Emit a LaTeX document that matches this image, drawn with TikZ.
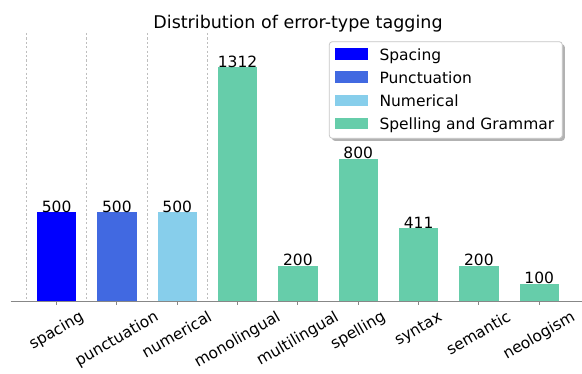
\documentclass[tikz,border=0pt]{standalone}
\usepackage{fontspec}
\usepackage{graphicx}
\setmainfont{DejaVu Sans}
\definecolor{cspace}{RGB}{0,0,255}
\definecolor{cpunct}{RGB}{65,105,225}
\definecolor{cnum}{RGB}{135,206,235}
\definecolor{csg}{RGB}{102,205,170}
\definecolor{axgray}{RGB}{135,135,135}
\definecolor{gridgray}{RGB}{190,190,190}
\newcommand\labfont{\fontsize{15.5}{18}\selectfont}
\newcommand\ttlfont{\fontsize{17.5}{20}\selectfont}
\newcommand\rotlab[1]{\rotatebox{30}{\labfont\vphantom{lp}#1}}
\begin{document}
\begin{tikzpicture}[x=1pt,y=1pt,
  barbox/.style={draw=none, inner sep=0pt, outer sep=0pt, minimum width=39.4pt, anchor=south},
  vallab/.style={inner sep=0pt, anchor=base, font=\labfont},
  ticklab/.style={inner sep=0pt, anchor=north},
  gridline/.style={gridgray, line width=0.9pt, dash pattern=on 2.2pt off 2.2pt},
  axisline/.style={axgray, line width=1.2pt},
  legpatch/.style={inner sep=0pt, minimum width=32.3pt, minimum height=11.7pt, anchor=south west},
  legtext/.style={inner sep=0pt, anchor=base west, font=\labfont}]
\useasboundingbox (0,0) rectangle (582,373);

% title
\node[anchor=base, inner sep=0pt, font=\ttlfont] (title) at (298,344.7) {Distribution of error-type tagging};

% separating dashed lines
\foreach \i in {0,1,2,3}{
  \pgfmathsetmacro\gx{26.45+60.33*\i}
  \coordinate (gt\i) at (\gx,340);
  \coordinate (gb\i) at (\gx,71.3);
  \draw[gridline] (gt\i) -- (gb\i);
}

% bars
\foreach \i/\v/\c/\n in {0/500/cspace/spacing,1/500/cpunct/punctuation,2/500/cnum/numerical,
  3/1312/csg/monolingual,4/200/csg/multilingual,5/800/csg/spelling,6/411/csg/syntax,
  7/200/csg/semantic,8/100/csg/neologism}{
  \pgfmathsetmacro\xc{56.6+60.33*\i}
  \pgfmathsetmacro\hh{0.1788*\v}
  \node[barbox, fill=\c, minimum height=\hh pt] (bar\i) at (\xc,71.3) {};
  \node[vallab] (val\i) at (bar\i.north) {\v};
  \coordinate (tk\i) at (\xc,71.3);
  \coordinate (tkb\i) at (\xc,67.6);
  \draw[axgray, line width=1pt] (tk\i) -- (tkb\i);
  \node[ticklab] (lab\i) at (\xc,63.5) {\rotlab{\n}};
}

% axis
\coordinate (axl) at (10.7,71.3);
\coordinate (axr) at (582,71.3);
\draw[axisline] (axl) -- (axr);

% legend
\fill[black, opacity=0.3, rounded corners=3pt] (331.8,328.8) rectangle (564.8,232.2);
\draw[gray!45, fill=white, line width=0.8pt, rounded corners=3pt] (329.3,331.3) rectangle (562.3,234.7);
\foreach \j/\c/\t in {0/cspace/Spacing,1/cpunct/Punctuation,2/cnum/Numerical,3/csg/Spelling and Grammar}{
  \pgfmathsetmacro\by{312.7-23.1*\j}
  \node[legpatch, fill=\c] (lp\j) at (335,\by) {};
  \node[legtext] (lt\j) at (379.3,\by) {\t};
}
\end{tikzpicture}
\end{document}
